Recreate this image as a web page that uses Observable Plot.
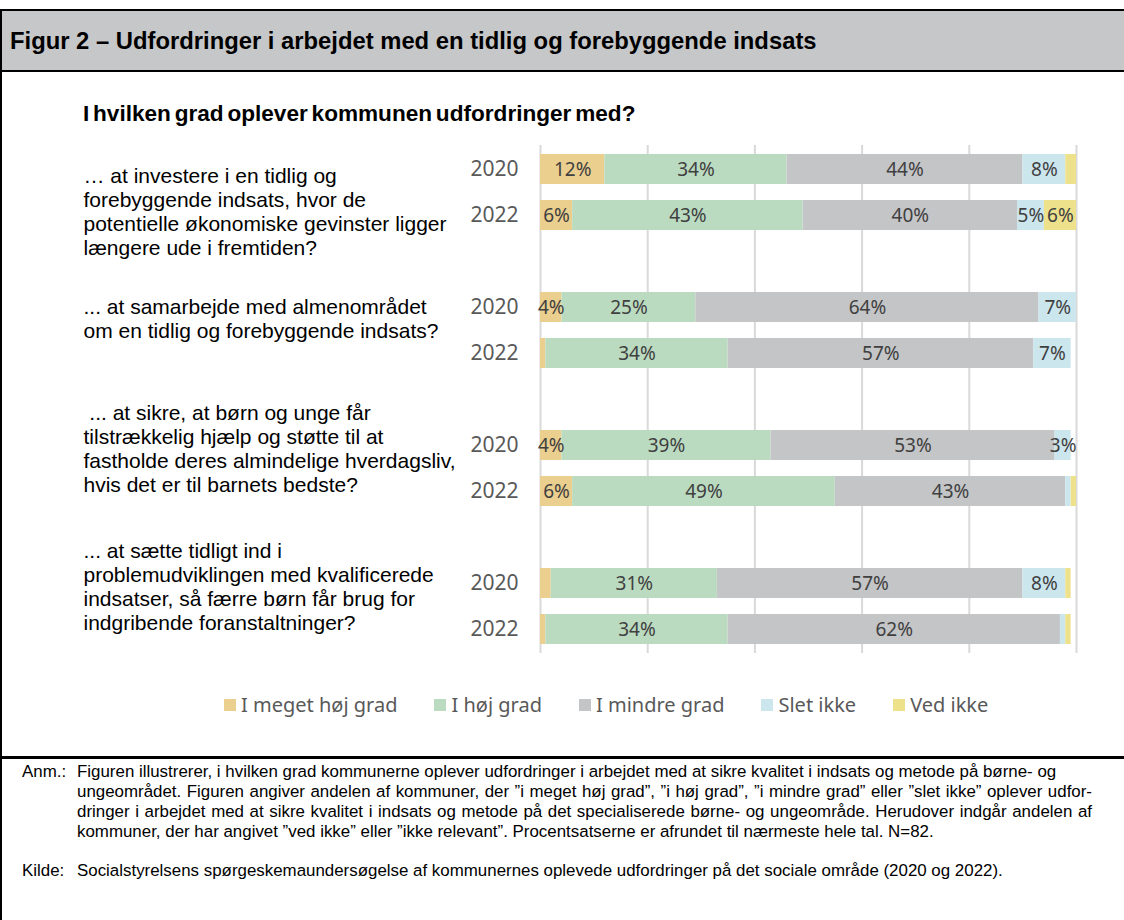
<!DOCTYPE html>
<html><head><meta charset="utf-8">
<script src="https://cdn.jsdelivr.net/npm/d3@7"></script>
<script src="https://cdn.jsdelivr.net/npm/@observablehq/plot@0.6"></script>
<style>
body{margin:0;background:#fff;}
#page{position:relative;width:1124px;height:920px;overflow:hidden;font-family:Arial,"Liberation Sans",sans-serif;color:#000;}
#frame{position:absolute;left:0;top:9px;width:1130px;height:920px;border-left:2px solid #000;border-top:2px solid #000;}
#header{position:absolute;left:2px;top:11px;width:1130px;height:59px;background:#c6c7c9;border-bottom:2px solid #000;}
#header span{position:absolute;left:8px;top:16px;font-weight:bold;font-size:23.8px;white-space:nowrap;}
#subtitle{position:absolute;left:83px;top:101px;font-weight:bold;font-size:22.6px;word-spacing:-2.5px;white-space:nowrap;}
#chart{position:absolute;left:0;top:130px;}
#legend{position:absolute;left:224px;top:691px;display:flex;gap:37px;white-space:nowrap;font-family:"Noto Sans",sans-serif;font-size:20px;color:#595959;}
#legend .item{display:flex;align-items:center;}
#legend .sw{width:12px;height:12px;margin-right:5px;}
#rule{position:absolute;left:0;top:756px;width:1124px;height:3px;background:#000;}
#notes{position:absolute;left:0;top:762px;width:1124px;font-size:16.9px;line-height:20px;}
.row{position:absolute;left:22px;}
.lab{position:absolute;left:0;}
.txt{position:absolute;left:55px;width:1015px;}
.txt div{white-space:nowrap;}
.j{text-align:justify;text-align-last:justify;}
</style></head><body>
<div id="page">
 <div id="frame"></div>
 <div id="header"><span>Figur 2 – Udfordringer i arbejdet med en tidlig og forebyggende indsats</span></div>
 <div id="subtitle">I hvilken grad oplever kommunen udfordringer med?</div>
 <div id="chart"></div>
 <div id="legend"></div>
 <div id="rule"></div>
 <div id="notes">
  <div class="row" style="top:0px"><div class="lab">Anm.:</div>
   <div class="txt">
    <div>Figuren illustrerer, i hvilken grad kommunerne oplever udfordringer i arbejdet med at sikre kvalitet i indsats og metode på børne- og</div>
    <div class="j">ungeområdet. Figuren angiver andelen af kommuner, der ”i meget høj grad”, ”i høj grad”, ”i mindre grad” eller ”slet ikke” oplever udfor-</div>
    <div class="j">dringer i arbejdet med at sikre kvalitet i indsats og metode på det specialiserede børne- og ungeområde. Herudover indgår andelen af</div>
    <div>kommuner, der har angivet ”ved ikke” eller ”ikke relevant”. Procentsatserne er afrundet til nærmeste hele tal. N=82.</div>
   </div></div>
  <div class="row" style="top:99px"><div class="lab">Kilde:</div>
   <div class="txt"><div>Socialstyrelsens spørgeskemaundersøgelse af kommunernes oplevede udfordringer på det sociale område (2020 og 2022).</div></div></div>
 </div>
</div>
<script>
const questions = [
  "… at investere i en tidlig og\nforebyggende indsats, hvor de\npotentielle økonomiske gevinster ligger\nlængere ude i fremtiden?",
  "... at samarbejde med almenområdet\nom en tidlig og forebyggende indsats?",
  "\u00a0... at sikre, at børn og unge får\ntilstrækkelig hjælp og støtte til at\nfastholde deres almindelige hverdagsliv,\nhvis det er til barnets bedste?",
  "... at sætte tidligt ind i\nproblemudviklingen med kvalificerede\nindsatser, så færre børn får brug for\nindgribende foranstaltninger?"
];
const years = ["2020", "2022"];
const categories = ["I meget høj grad", "I høj grad", "I mindre grad", "Slet ikke", "Ved ikke"];
const colors = ["#ebcf8e", "#bbdbc1", "#c4c5c7", "#cce6ee", "#ede28b"];
// rows: q1-2020, q1-2022, q2-2020, q2-2022, q3-2020, q3-2022, q4-2020, q4-2022
const megetHoej = [12, 6, 4, 1, 4, 6, 2, 1];
const hoej      = [34, 43, 25, 34, 39, 49, 31, 34];
const mindre    = [44, 40, 64, 57, 53, 43, 57, 62];
const sletIkke  = [8, 5, 7, 7, 3, 1, 8, 1];
const vedIkke   = [2, 6, 0, 0, 0, 1, 1, 1];
const gridTicks = [0, 20, 40, 60, 80, 100];

const series = [megetHoej, hoej, mindre, sletIkke, vedIkke];
const rowKeys = [];
questions.forEach((q, i) => years.forEach(y => rowKeys.push(`${i}|${y}`)));
const domain = [];
questions.forEach((q, i) => {
  years.forEach(y => domain.push(`${i}|${y}`));
  if (i < questions.length - 1) domain.push(`gap${i}`);
});
const data = [];
rowKeys.forEach((row, r) => {
  categories.forEach((cat, c) => data.push({row, cat, value: series[c][r]}));
});

const qDy = [-3, -10, -42, -42];

const chart = Plot.plot({
  width: 1124,
  height: 525,
  marginLeft: 540,
  marginRight: 48,
  marginTop: 15,
  marginBottom: 2,
  x: {domain: [0, 100], axis: null},
  y: {domain, paddingInner: 0.353, paddingOuter: 0.15, axis: null},
  color: {domain: categories, range: colors},
  style: {fontFamily: "Arial, 'Liberation Sans', sans-serif", background: "transparent"},
  marks: [
    Plot.ruleX(gridTicks, {stroke: "#d9d9d9", strokeWidth: 2}),
    Plot.barX(data, Plot.stackX({x: "value", y: "row", fill: "cat", inset: 0})),
    Plot.text(data, Plot.stackX({
      x: "value", y: "row",
      text: d => d.value >= 3 ? d.value + "%" : "",
      fill: "#404040", fontSize: 19, fontFamily: "'Noto Sans', sans-serif"
    })),
    Plot.axisY(rowKeys, {
      tickSize: 0, tickPadding: 22, tickFormat: d => d.split("|")[1],
      fontSize: 21, fill: "#595959", fontFamily: "'Noto Sans', sans-serif", label: null
    }),
    ...questions.map((q, i) => Plot.text([q], {
      y: () => `${i}|2020`, text: d => d,
      frameAnchor: "left", dx: -457, dy: qDy[i],
      textAnchor: "start", lineAnchor: "top", lineHeight: 1.13,
      fontSize: 21, fill: "#000"
    }))
  ]
});
document.getElementById("chart").appendChild(chart);

const legend = document.getElementById("legend");
categories.forEach((c, i) => {
  const item = document.createElement("div");
  item.className = "item";
  item.innerHTML = `<span class="sw" style="background:${colors[i]}"></span><span>${c}</span>`;
  legend.appendChild(item);
});
</script>
</body></html>
